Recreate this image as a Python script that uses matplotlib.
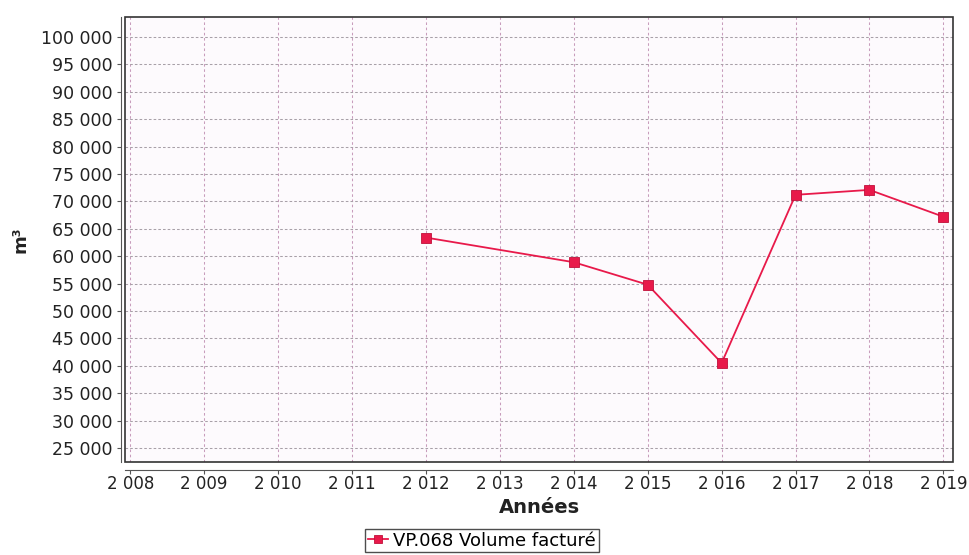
import matplotlib.pyplot as plt
from matplotlib.ticker import FuncFormatter, MultipleLocator
from matplotlib.patches import Rectangle

# data
years = [2012, 2014, 2015, 2016, 2017, 2018, 2019]
volume = [63400, 58900, 54800, 40500, 71200, 72100, 67200]
series_label = 'VP.068 Volume facturé'

line_col = '#e8194a'


def spaced(v, pos=None):
    return f'{int(round(v)):,}'.replace(',', ' ')


fig = plt.figure(figsize=(9.7, 5.55), dpi=100)
ax = fig.add_axes([0.1289, 0.1676, 0.8536, 0.8018])
ax.set_facecolor('#fdfafd')

ax.plot(years, volume, color=line_col, lw=1.3, marker='s', ms=6.5,
        mfc=line_col, mec='#c0103a', mew=0.6, label=series_label, zorder=3)

ax.set_xlim(2007.93, 2019.13)
ax.set_ylim(22450, 103650)
ax.xaxis.set_major_locator(MultipleLocator(1))
ax.yaxis.set_major_locator(MultipleLocator(5000))
ax.xaxis.set_major_formatter(FuncFormatter(spaced))
ax.yaxis.set_major_formatter(FuncFormatter(spaced))

ax.grid(axis='x', color='#c89cbc', ls=(0, (2.5, 2.5)), lw=0.75)
ax.grid(axis='y', color='#a8a0a8', ls=(0, (2.5, 2)), lw=0.75)

# separate axis lines, like the original
for s in ['top', 'right']:
    ax.spines[s].set_visible(False)
ax.spines['left'].set_position(('outward', 3))
ax.spines['bottom'].set_position(('outward', 6))
ax.spines['left'].set_color('#555555')
ax.spines['bottom'].set_color('#555555')
ax.add_patch(Rectangle((0, 0), 1, 1, transform=ax.transAxes, fill=False,
                       ec='#333333', lw=1.2, clip_on=False, zorder=4))

ax.tick_params(axis='y', labelsize=12.5, color='#555555', length=3,
               labelcolor='#222222', pad=3)
ax.tick_params(axis='x', labelsize=12, color='#555555', length=3,
               labelcolor='#222222', pad=0.5)
ax.set_xlabel('Années', fontsize=14, fontweight='bold', color='#222222',
              labelpad=3.5)
ax.set_ylabel('m³', fontsize=13, fontweight='bold', color='#222222',
              labelpad=8)

handles, labels = ax.get_legend_handles_labels()
leg = fig.legend(handles, labels, loc='upper center',
                 bbox_to_anchor=(0.497, 0.047), frameon=True, fancybox=False,
                 fontsize=13, handlelength=1.1, handletextpad=0.3,
                 borderpad=0.15, borderaxespad=0, markerscale=0.85)
leg.get_frame().set_edgecolor('#222222')
leg.get_frame().set_linewidth(1.0)

fig.savefig('out.png', dpi=100, facecolor='white')
